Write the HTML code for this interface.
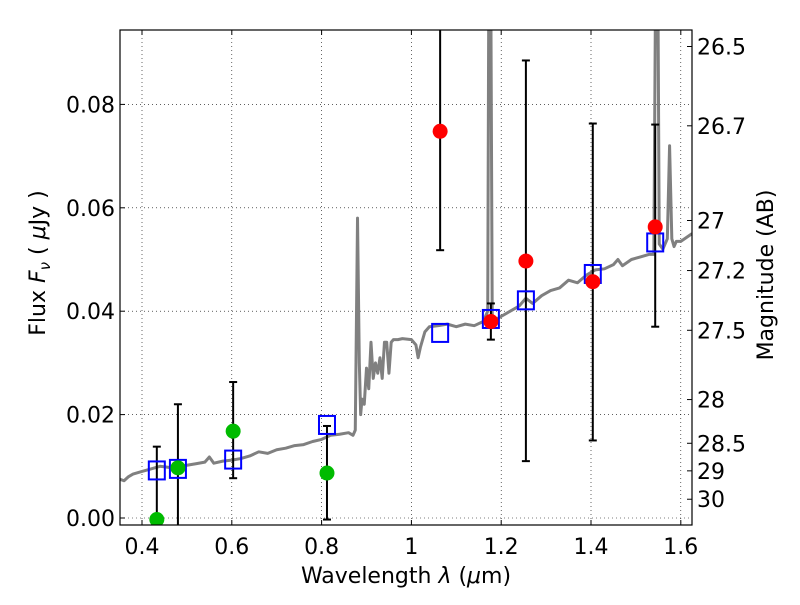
<!DOCTYPE html>
<html><head><meta charset="utf-8"><style>
body{margin:0;background:#fff;width:800px;height:600px;overflow:hidden}
svg{font-family:"DejaVu Sans","Liberation Sans",sans-serif}
</style></head><body>
<svg id="chart" width="800" height="600" xmlns="http://www.w3.org/2000/svg"></svg>
<script>
const xTicks=[0.4,0.6,0.8,1.0,1.2,1.4,1.6];
const xTickLabels=["0.4","0.6","0.8","1","1.2","1.4","1.6"];
const yTicks=[0,0.02,0.04,0.06,0.08];
const yTickLabels=["0.00","0.02","0.04","0.06","0.08"];
const magTicks=[26.5,26.7,27,27.2,27.5,28,28.5,29,30];
const specLam=[0.351,0.36,0.37,0.38,0.40,0.42,0.44,0.46,0.48,0.50,0.52,0.54,0.55,0.56,0.58,0.60,0.62,0.64,0.66,0.68,0.70,0.72,0.74,0.76,0.78,0.80,0.82,0.84,0.86,0.87,0.875,0.88,0.884,0.887,0.89,0.895,0.90,0.905,0.91,0.915,0.92,0.925,0.93,0.935,0.94,0.945,0.95,0.955,0.96,0.97,0.98,1.0,1.01,1.015,1.02,1.03,1.04,1.06,1.08,1.10,1.12,1.14,1.16,1.17,1.173,1.176,1.18,1.19,1.20,1.22,1.24,1.255,1.27,1.29,1.31,1.33,1.35,1.37,1.39,1.41,1.43,1.45,1.46,1.47,1.49,1.51,1.53,1.54,1.545,1.548,1.552,1.56,1.57,1.575,1.58,1.585,1.59,1.60,1.625];
const specFlux=[0.0075,0.0072,0.0080,0.0085,0.0090,0.0095,0.0100,0.0098,0.0100,0.0102,0.0105,0.0108,0.0118,0.0106,0.0110,0.0112,0.0115,0.0120,0.0128,0.0125,0.0132,0.0135,0.0140,0.0142,0.0148,0.0152,0.0160,0.0162,0.0165,0.0160,0.0170,0.0580,0.0300,0.0200,0.0230,0.0220,0.0290,0.0250,0.0340,0.0270,0.0300,0.0280,0.0310,0.0270,0.0340,0.0340,0.0280,0.0340,0.0345,0.0345,0.0347,0.0345,0.0335,0.0310,0.0330,0.0360,0.0370,0.0372,0.0375,0.0370,0.0375,0.0372,0.0380,0.0400,0.1200,0.1200,0.0390,0.0385,0.0390,0.0400,0.0410,0.0425,0.0415,0.0430,0.0440,0.0445,0.0460,0.0455,0.0470,0.0480,0.0482,0.0490,0.0500,0.0488,0.0500,0.0505,0.0510,0.0510,0.1200,0.1200,0.0530,0.0520,0.0540,0.0720,0.0540,0.0525,0.0535,0.0535,0.0550];
const redLam=[1.064,1.177,1.255,1.404,1.543];
const redFlux=[0.0748,0.0380,0.0497,0.0457,0.0563];
const redLo=[0.0518,0.0345,0.0110,0.0150,0.0370];
const redHi=[0.1200,0.0415,0.0885,0.0763,0.0761];
const greenLam=[0.433,0.480,0.603,0.812];
const greenFlux=[-0.0003,0.0097,0.0168,0.0087];
const greenLo=[-0.0020,-0.0020,0.0077,-0.0003];
const greenHi=[0.0138,0.0220,0.0263,0.0178];
const boxLam=[0.433,0.480,0.603,0.812,1.064,1.177,1.255,1.404,1.543];
const boxFlux=[0.0092,0.0095,0.0113,0.0180,0.0358,0.0385,0.0421,0.0472,0.0533];

const L=120,R=692,T=30,B=525;
const X=v=>142+(v-0.4)*449;
const Y=v=>518-v*5170;
const svg=document.getElementById('chart');
const NS='http://www.w3.org/2000/svg';
function mk(tag,attrs,parent){const e=document.createElementNS(NS,tag);for(const k in attrs)e.setAttribute(k,attrs[k]);(parent||svg).appendChild(e);return e;}
const defs=mk('defs',{});const cp=mk('clipPath',{id:'clip'},defs);mk('rect',{x:L,y:T,width:R-L,height:B-T},cp);

const grid=mk('g',{});


xTicks.forEach((t,i)=>{
  mk('line',{x1:X(t),x2:X(t),y1:T,y2:B,stroke:'#000','stroke-width':0.6,'stroke-dasharray':'1,3'},grid);
  mk('line',{x1:X(t),x2:X(t),y1:B,y2:B-5,stroke:'#000'},grid);
  mk('line',{x1:X(t),x2:X(t),y1:T,y2:T+5,stroke:'#000'},grid);
  const tx=mk('text',{x:X(t),y:B+29,'font-size':22,'text-anchor':'middle'});
  
  
  tx.textContent=xTickLabels[i];
});
yTicks.forEach((t,i)=>{
  mk('line',{x1:L,x2:R,y1:Y(t),y2:Y(t),stroke:'#000','stroke-width':0.6,'stroke-dasharray':'1,3'},grid);
  mk('line',{x1:L,x2:L+5,y1:Y(t),y2:Y(t),stroke:'#000'},grid);
  const tx=mk('text',{x:L-5,y:Y(t)+8,'font-size':22,'text-anchor':'end'});
  
  
  tx.textContent=yTickLabels[i];
});
magTicks.forEach(m=>{
  const f=Math.pow(10,(23.9-m)/2.5);
  mk('line',{x1:R-5,x2:R,y1:Y(f),y2:Y(f),stroke:'#000'});
  const tx=mk('text',{x:R+5,y:Y(f)+8,'font-size':22});
  
  
  tx.textContent=String(m);
});

const plot=mk('g',{'clip-path':'url(#clip)'});
const sp=mk('polyline',{points:specLam.map((l,i)=>X(l)+','+Y(specFlux[i])).join(' '),fill:'none',stroke:'#808080','stroke-width':3,'stroke-linejoin':'round'},plot);



function err(lam,lo,hi,name){
  lam.forEach((l,i)=>{
    const g=mk('g',{},plot);
    
    
    mk('line',{x1:X(l),x2:X(l),y1:Y(lo[i]),y2:Y(hi[i]),stroke:'#000','stroke-width':2},g);
    mk('line',{x1:X(l)-4,x2:X(l)+4,y1:Y(lo[i]),y2:Y(lo[i]),stroke:'#000','stroke-width':2},g);
    mk('line',{x1:X(l)-4,x2:X(l)+4,y1:Y(hi[i]),y2:Y(hi[i]),stroke:'#000','stroke-width':2},g);
  });
}
err(greenLam,greenLo,greenHi,'green-error-bar');
err(redLam,redLo,redHi,'red-error-bar');
boxLam.forEach((l,i)=>{
  const r=mk('rect',{x:X(l)-8,y:Y(boxFlux[i])-9,width:16,height:18,fill:'none',stroke:'#0000ff','stroke-width':2},plot);
  
  
});
greenLam.forEach((l,i)=>{
  const c=mk('circle',{cx:X(l),cy:Y(greenFlux[i]),r:7.5,fill:'#00bb00'},plot);
  
  
});
redLam.forEach((l,i)=>{
  const c=mk('circle',{cx:X(l),cy:Y(redFlux[i]),r:7.5,fill:'#ff0000'},plot);
  
  
});
const fr=mk('rect',{x:L,y:T,width:R-L,height:B-T,fill:'none',stroke:'#000','stroke-width':1.2});



const xt=mk('text',{x:406,y:583,'font-size':22,'text-anchor':'middle'});


xt.innerHTML='Wavelength  <tspan font-style="italic">λ</tspan> (<tspan font-style="italic">μ</tspan>m)';
const yt=mk('text',{x:0,y:0,'font-size':22,'text-anchor':'middle',transform:'translate(45,263) rotate(-90)'});


yt.innerHTML='Flux  <tspan font-style="italic">F</tspan><tspan font-style="italic" font-size="15" dy="5">ν</tspan><tspan dy="-5">  (  <tspan font-style="italic">μ</tspan>Jy )</tspan>';
const rt=mk('text',{x:0,y:0,'font-size':22,'text-anchor':'middle',transform:'translate(773,275) rotate(-90)'});


rt.textContent='Magnitude (AB)';
</script>
</body></html>
